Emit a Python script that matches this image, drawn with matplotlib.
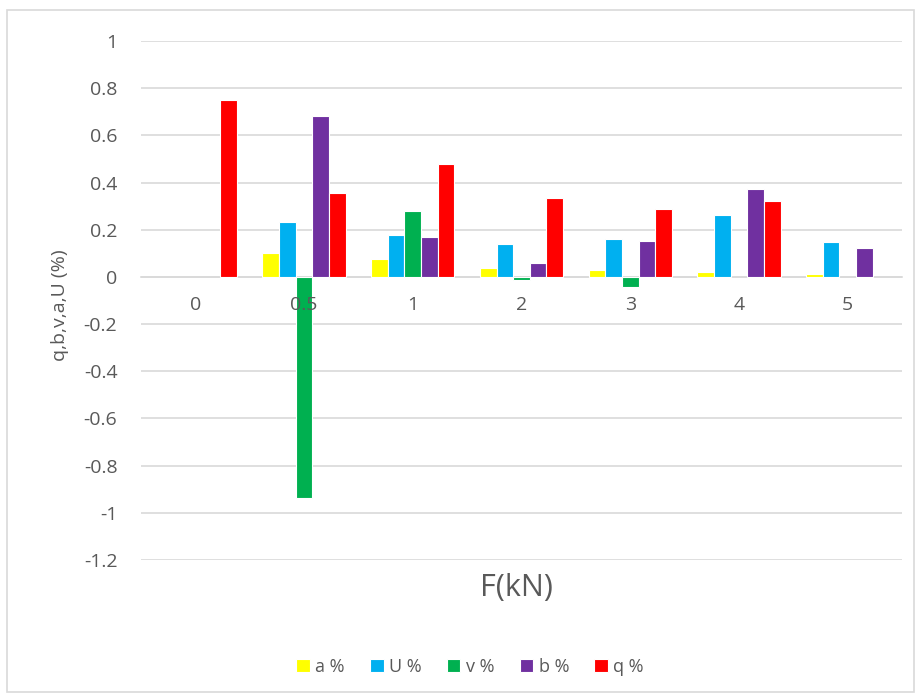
import matplotlib
matplotlib.use("Agg")
import matplotlib.pyplot as plt
import numpy as np
from matplotlib.patches import Rectangle

categories = ["0", "0.5", "1", "2", "3", "4", "5"]
a_vals = [0, 0.10, 0.078, 0.039, 0.029, 0.019, 0.014]
U_vals = [0, 0.233, 0.177, 0.14, 0.161, 0.264, 0.149]
v_vals = [0, -0.936, 0.278, -0.014, -0.043, 0, 0]
b_vals = [0, 0.681, 0.169, 0.06, 0.154, 0.373, 0.121]
q_vals = [0.75, 0.355, 0.479, 0.334, 0.289, 0.32, 0]

series = [("a %", a_vals, "#FFFF00"),
          ("U %", U_vals, "#00B0F0"),
          ("v %", v_vals, "#00B050"),
          ("b %", b_vals, "#7030A0"),
          ("q %", q_vals, "#FF0000")]

FONT = ["Open Sans", "DejaVu Sans"]
plt.rcParams['font.family'] = FONT
TXT = "#595959"

fig = plt.figure(figsize=(9.2, 6.98), dpi=100)
ax = fig.add_axes([141/920, 1-560/698, 761/920, 519/698])

x = np.arange(len(categories))
slot = 0.153
for i, (name, vals, col) in enumerate(series):
    v = np.array(vals, dtype=float)
    v = np.where(v == 0, np.nan, v)
    ax.bar(x + (i - 2) * slot, v, width=slot, color=col, edgecolor="white",
           linewidth=0.8, label=name, zorder=3)

ax.set_xlim(-0.5, len(categories) - 0.5)
ax.set_ylim(-1.2, 1.0)
ax.set_yticks(np.arange(-1.2, 1.01, 0.2))
ax.set_yticklabels(["-1.2", "-1", "-0.8", "-0.6", "-0.4", "-0.2", "0", "0.2", "0.4", "0.6", "0.8", "1"])
ax.yaxis.grid(True, color="#D9D9D9", linewidth=1.2, zorder=0)
ax.set_axisbelow(True)
for s in ["top", "right", "left"]:
    ax.spines[s].set_visible(False)
ax.spines["bottom"].set_position(("data", 0))
ax.spines["bottom"].set_color("#D9D9D9")
ax.spines["bottom"].set_linewidth(1.2)
ax.set_xticks(x)
ax.set_xticklabels(categories)
ax.xaxis.set_zorder(5)
ax.tick_params(axis="x", length=0, pad=14, labelsize=14, labelcolor=TXT)
ax.tick_params(axis="y", length=0, pad=17, labelsize=14, labelcolor=TXT)

fig.text(60/920, 1-305/698, "q,b,v,a,U (%)", rotation=90, ha="center", va="center",
         fontsize=14, color=TXT)
fig.text(516/920, 1-588/698, "F(kN)", ha="center", va="center", fontsize=22, color=TXT)

leg = fig.legend(loc="center", bbox_to_anchor=(470/920, 1-667/698), ncol=5, frameon=False,
                 fontsize=13, labelcolor=TXT, handlelength=0.75, handleheight=0.75,
                 handletextpad=0.3, columnspacing=1.4)

fig.patches.append(Rectangle((7/920, 6/698), 907/920, 682/698, transform=fig.transFigure,
                             fill=False, edgecolor="#D9D9D9", linewidth=1.2))

fig.savefig("out.png", dpi=100)
